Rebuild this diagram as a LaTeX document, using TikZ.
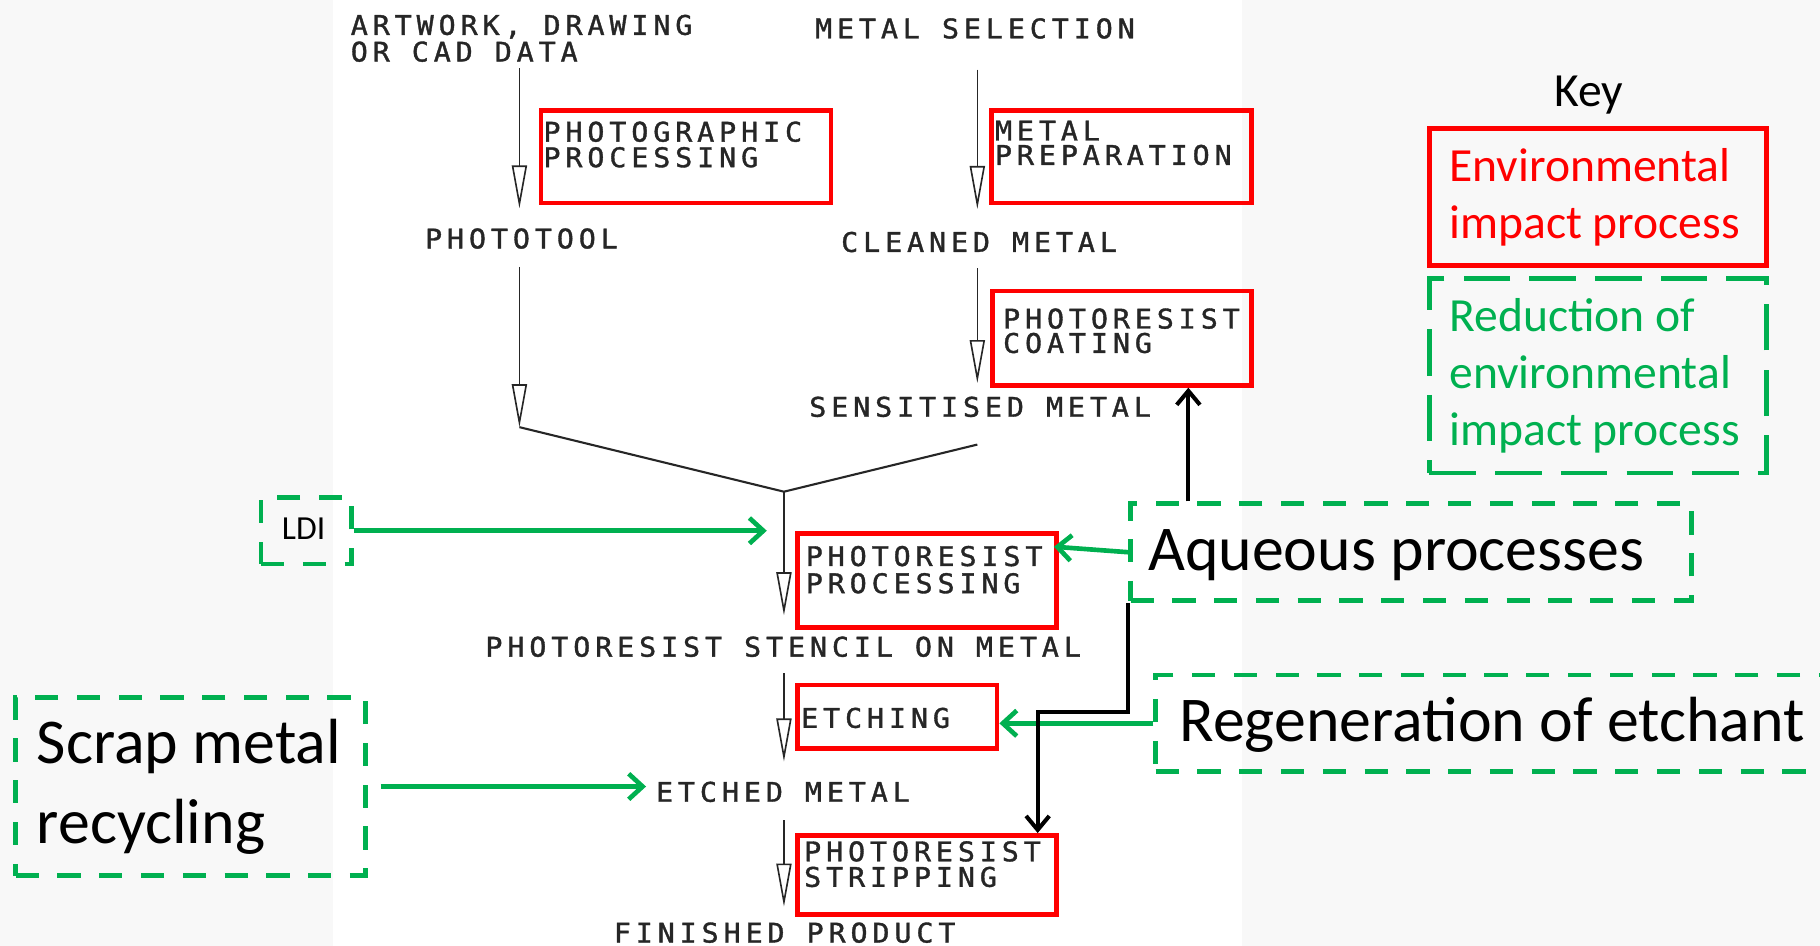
\documentclass[tikz,border=0pt]{standalone}
\usepackage{fontspec}
\setmainfont{Carlito}
\newfontfamily\cad[FakeStretch=1.05,LetterSpace=18,FakeBold=1.3]{DejaVu Sans Mono}
\usetikzlibrary{arrows.meta}
\definecolor{ogreen}{HTML}{00B050}
\definecolor{bgpat}{HTML}{F8F8F8}
\newcommand\cadfont{\cad\fontsize{23.3}{24}\selectfont}
\tikzset{
  cadtxt/.style={anchor=base west, inner sep=0pt, font=\cadfont, text=black!85},
  redbox/.style={draw=red, line width=4pt, anchor=north west, inner sep=0pt},
  gbox/.style={draw=ogreen, line width=4pt, dash pattern=on 20pt off 16pt, anchor=north west, inner sep=0pt},
  keygbox/.style={draw=ogreen, line width=4pt, dash pattern=on 40pt off 16.6pt, anchor=north west, inner sep=0pt},
  bigtxt/.style={anchor=base west, inner sep=0pt, font=\fontsize{55}{60}\selectfont},
  keytxt/.style={anchor=base west, inner sep=0pt, font=\fontsize{41}{44}\selectfont},
  scanline/.style={draw=black!85, line width=1.8pt},
  scanarr/.style={draw=black!85, line width=1.4pt, -{Triangle[open, length=37pt, width=13pt]}},
  garrow/.style={draw=ogreen, line width=4pt, -{Straight Barb[length=12pt, width=22pt]}},
  barrow/.style={draw=black, line width=3.5pt, -{Straight Barb[length=12pt, width=20pt]}}
}
\begin{document}
\begin{tikzpicture}[x=1pt,y=-1pt]
\useasboundingbox (0,0) rectangle (1568,815);
\clip (0,0) rectangle (1568,815);
\fill[bgpat] (0,0) rectangle (1568,815);
\fill[white] (287,0) rectangle (1070,815);

% scanned process texts
\node[cadtxt] (art1) at (302,30) {ARTWORK, DRAWING};
\node[cadtxt] (art2) at (302,53) {OR CAD DATA};
\node[cadtxt] (msel) at (702,33) {METAL SELECTION};
\node[cadtxt] (ptool) at (366,214) {PHOTOTOOL};
\node[cadtxt] (clean) at (724.5,217) {CLEANED METAL};
\node[cadtxt] (sens) at (697,359) {SENSITISED METAL};
\node[cadtxt] (stencil) at (418,565.7) {PHOTORESIST STENCIL ON METAL};
\node[cadtxt] (etched) at (565,690.7) {ETCHED METAL};
\node[cadtxt] (fin) at (528.6,812) {FINISHED PRODUCT};

% red process boxes
\node[redbox, minimum width=250pt, minimum height=80pt] (pp) at (464,93) {};
\node[cadtxt] (pp1) at (468,122) {PHOTOGRAPHIC};
\node[cadtxt] (pp2) at (468,144) {PROCESSING};
\node[redbox, minimum width=224pt, minimum height=80pt] (mp) at (852,93) {};
\node[cadtxt] (mp1) at (857,121) {METAL};
\node[cadtxt] (mp2) at (857,142) {PREPARATION};
\node[redbox, minimum width=223pt, minimum height=81.4pt] (pc) at (853,248.6) {};
\node[cadtxt] (pc1) at (864,283) {PHOTORESIST};
\node[cadtxt] (pc2) at (864,304) {COATING};
\node[redbox, minimum width=223pt, minimum height=81pt] (prp) at (685,457.5) {};
\node[cadtxt] (prp1) at (694,487.6) {PHOTORESIST};
\node[cadtxt] (prp2) at (694,511) {PROCESSING};
\node[redbox, minimum width=172pt, minimum height=54.7pt] (et) at (685,588) {};
\node[cadtxt] (et1) at (690,627) {ETCHING};
\node[redbox, minimum width=223pt, minimum height=68.3pt] (ps) at (685,717.7) {};
\node[cadtxt] (ps1) at (692.6,742) {PHOTORESIST};
\node[cadtxt] (ps2) at (692.6,764) {STRIPPING};

% scanned arrows
\coordinate (a1s) at (447.5,59);   \coordinate (a1e) at (447.5,179.5);
\coordinate (a2s) at (447.5,230);  \coordinate (a2e) at (447.5,368);
\coordinate (b1s) at (842,60);     \coordinate (b1e) at (842,180);
\coordinate (b2s) at (842,231);    \coordinate (b2e) at (842,330);
\coordinate (mj) at (675.4,423.6); \coordinate (rj) at (842,383);
\coordinate (mje) at (675.4,530);
\coordinate (c1s) at (675.4,580);  \coordinate (c1e) at (675.4,656);
\coordinate (d1s) at (675.4,706.5);\coordinate (d1e) at (675.4,781);
\draw[scanarr] (a1s) -- (a1e);
\draw[scanarr] (a2s) -- (a2e);
\draw[scanarr] (b1s) -- (b1e);
\draw[scanarr] (b2s) -- (b2e);
\draw[scanline] (a2e) -- (mj) -- (rj);
\draw[scanarr] (mj) -- (mje);
\draw[scanarr] (c1s) -- (c1e);
\draw[scanarr] (d1s) -- (d1e);

% green dashed boxes
\node[gbox, minimum width=78pt, minimum height=57.5pt] (ldi) at (223,426.5) {};
\node[anchor=base west, inner sep=0pt, font=\fontsize{29}{32}\selectfont] (ldit) at (242.7,465) {LDI};
\node[gbox, minimum width=483pt, minimum height=83.5pt] (aq) at (972,432) {};
\node[bigtxt] (aqt) at (989,491.7) {Aqueous processes};
\node[gbox, minimum width=650pt, minimum height=83.3pt] (regen) at (993.6,579.5) {};
\node[bigtxt] (regent) at (1016,639) {Regeneration of etchant};
\node[gbox, minimum width=301.5pt, minimum height=153.6pt] (scrap) at (11.5,598.8) {};
\node[bigtxt] (scrap1) at (31.6,657.6) {Scrap metal};
\node[bigtxt] (scrap2) at (31.6,726.5) {recycling};

% green arrows
\coordinate (ldiT) at (660.6,457);
\coordinate (prpIn) at (908,471);
\coordinate (etchT) at (556.6,677);
\draw[garrow] (ldi.east) -- (ldi.east -| ldiT);
\draw[garrow] (aq.west) -- (prpIn);
\draw[garrow] (regen.west) -- (regen.west -| et.east);
\draw[garrow, shorten <=11pt] (scrap.east) -- (scrap.east -| etchT);

% black arrows
\coordinate (aqUp) at (1023.8,432);
\coordinate (bend) at (972,613);
\coordinate (psIn) at (894,717.7);
\draw[barrow] (aqUp) -- (aqUp |- pc.south);
\draw[barrow] (aq.south west) -- (bend) -| (psIn);

% key
\node[keytxt] (key) at (1339,91.7) {Key};
\node[draw=red, line width=4pt, anchor=north west, inner sep=0pt, minimum width=290.5pt, minimum height=118.4pt] (keyr) at (1229.5,108.6) {};
\node[keytxt, text=red] (kr1) at (1248.5,156.3) {Environmental};
\node[keytxt, text=red] (kr2) at (1248.5,205.6) {impact process};
\node[keygbox, minimum width=290.5pt, minimum height=167.7pt] (keyg) at (1229.5,237.8) {};
\node[keytxt, text=ogreen] (kg1) at (1248.5,285.5) {Reduction of};
\node[keytxt, text=ogreen] (kg2) at (1248.5,334.8) {environmental};
\node[keytxt, text=ogreen] (kg3) at (1248.5,384) {impact process};
\end{tikzpicture}
\end{document}
